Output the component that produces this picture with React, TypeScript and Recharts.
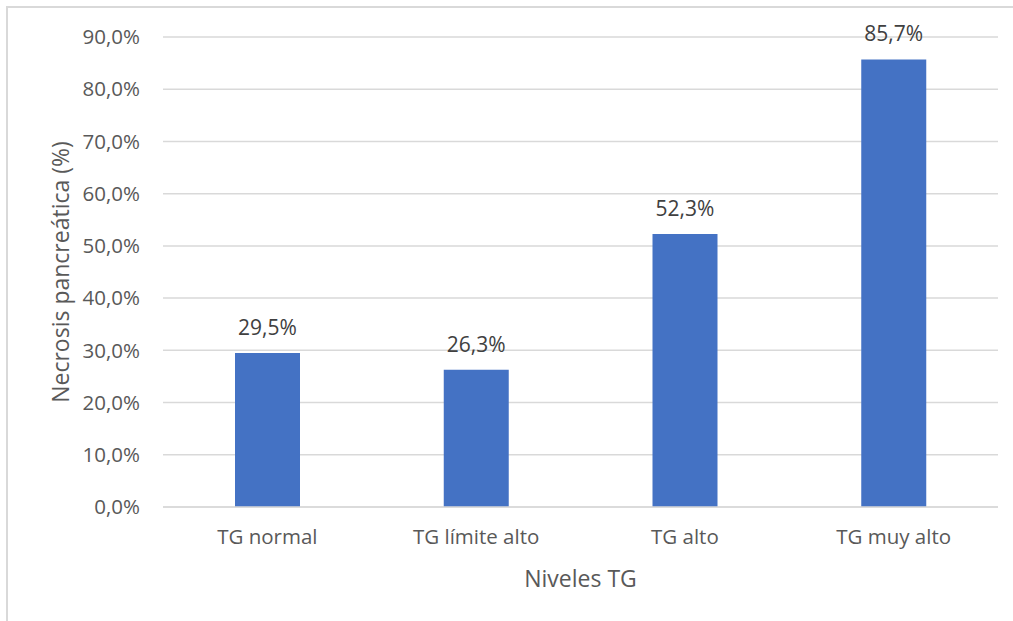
import React from 'react';
import { BarChart, Bar, XAxis, YAxis, CartesianGrid, LabelList } from 'recharts';

const categories = ['TG normal', 'TG límite alto', 'TG alto', 'TG muy alto'];
const necrosisPct = [29.5, 26.3, 52.3, 85.7];
const yTicks = [0, 10, 20, 30, 40, 50, 60, 70, 80, 90];

const data = categories.map((name, i) => ({ name, value: necrosisPct[i] }));

const FONT = '"Open Sans", "Noto Sans", sans-serif';
const fmt = (v: number) => v.toFixed(1).replace('.', ',') + '%';

const YTitle = (props: any) => {
  const { viewBox } = props;
  const cx = viewBox.x + 60;
  const cy = viewBox.y + viewBox.height / 2;
  return (
    <text
      x={cx}
      y={cy}
      transform={`rotate(-90, ${cx}, ${cy})`}
      textAnchor="middle"
      dominantBaseline="central"
      fill="#595959"
      fontSize={23}
      fontFamily={FONT}
    >
      Necrosis pancreática (%)
    </text>
  );
};

const XTitle = (props: any) => {
  const { viewBox } = props;
  const cx = viewBox.x + viewBox.width / 2;
  return (
    <text
      x={cx}
      y={viewBox.y + 71}
      textAnchor="middle"
      dominantBaseline="central"
      fill="#595959"
      fontSize={23}
      fontFamily={FONT}
    >
      Niveles TG
    </text>
  );
};

export default function App() {
  return (
    <div
      style={{
        position: 'fixed',
        left: 0,
        top: 0,
        width: 1013,
        height: 621,
        overflow: 'hidden',
        background: '#ffffff',
      }}
    >
      <div
        style={{
          position: 'absolute',
          left: 6,
          top: 6,
          width: 1040,
          height: 700,
          border: '2px solid #d9d9d9',
          boxSizing: 'border-box',
        }}
      />
      <div style={{ position: 'absolute', left: 0, top: 0 }}>
        <BarChart
          width={1013}
          height={621}
          data={data}
          margin={{ top: 37, right: 15, bottom: 0, left: 0 }}
        >
          <CartesianGrid vertical={false} stroke="#d9d9d9" strokeWidth={1.5} />
          <XAxis
            dataKey="name"
            height={114}
            axisLine={{ stroke: '#d9d9d9', strokeWidth: 1.5 }}
            tickLine={false}
            tickSize={0}
            tickMargin={22}
            tick={{ fill: '#595959', fontSize: 20.5, fontFamily: FONT }}
            label={{ content: XTitle }}
          />
          <YAxis
            width={163}
            domain={[0, 90]}
            ticks={yTicks}
            tickFormatter={fmt}
            axisLine={false}
            tickLine={false}
            tickSize={0}
            tickMargin={23}
            tick={{ fill: '#595959', fontSize: 20.5, fontFamily: FONT }}
            label={{ content: YTitle }}
          />
          <Bar dataKey="value" fill="#4472C4" barSize={65} isAnimationActive={false}>
            <LabelList
              dataKey="value"
              position="top"
              offset={18}
              formatter={(v: any) => fmt(Number(v))}
              fill="#404040"
              fontSize={21}
              fontFamily={FONT}
            />
          </Bar>
        </BarChart>
      </div>
    </div>
  );
}
